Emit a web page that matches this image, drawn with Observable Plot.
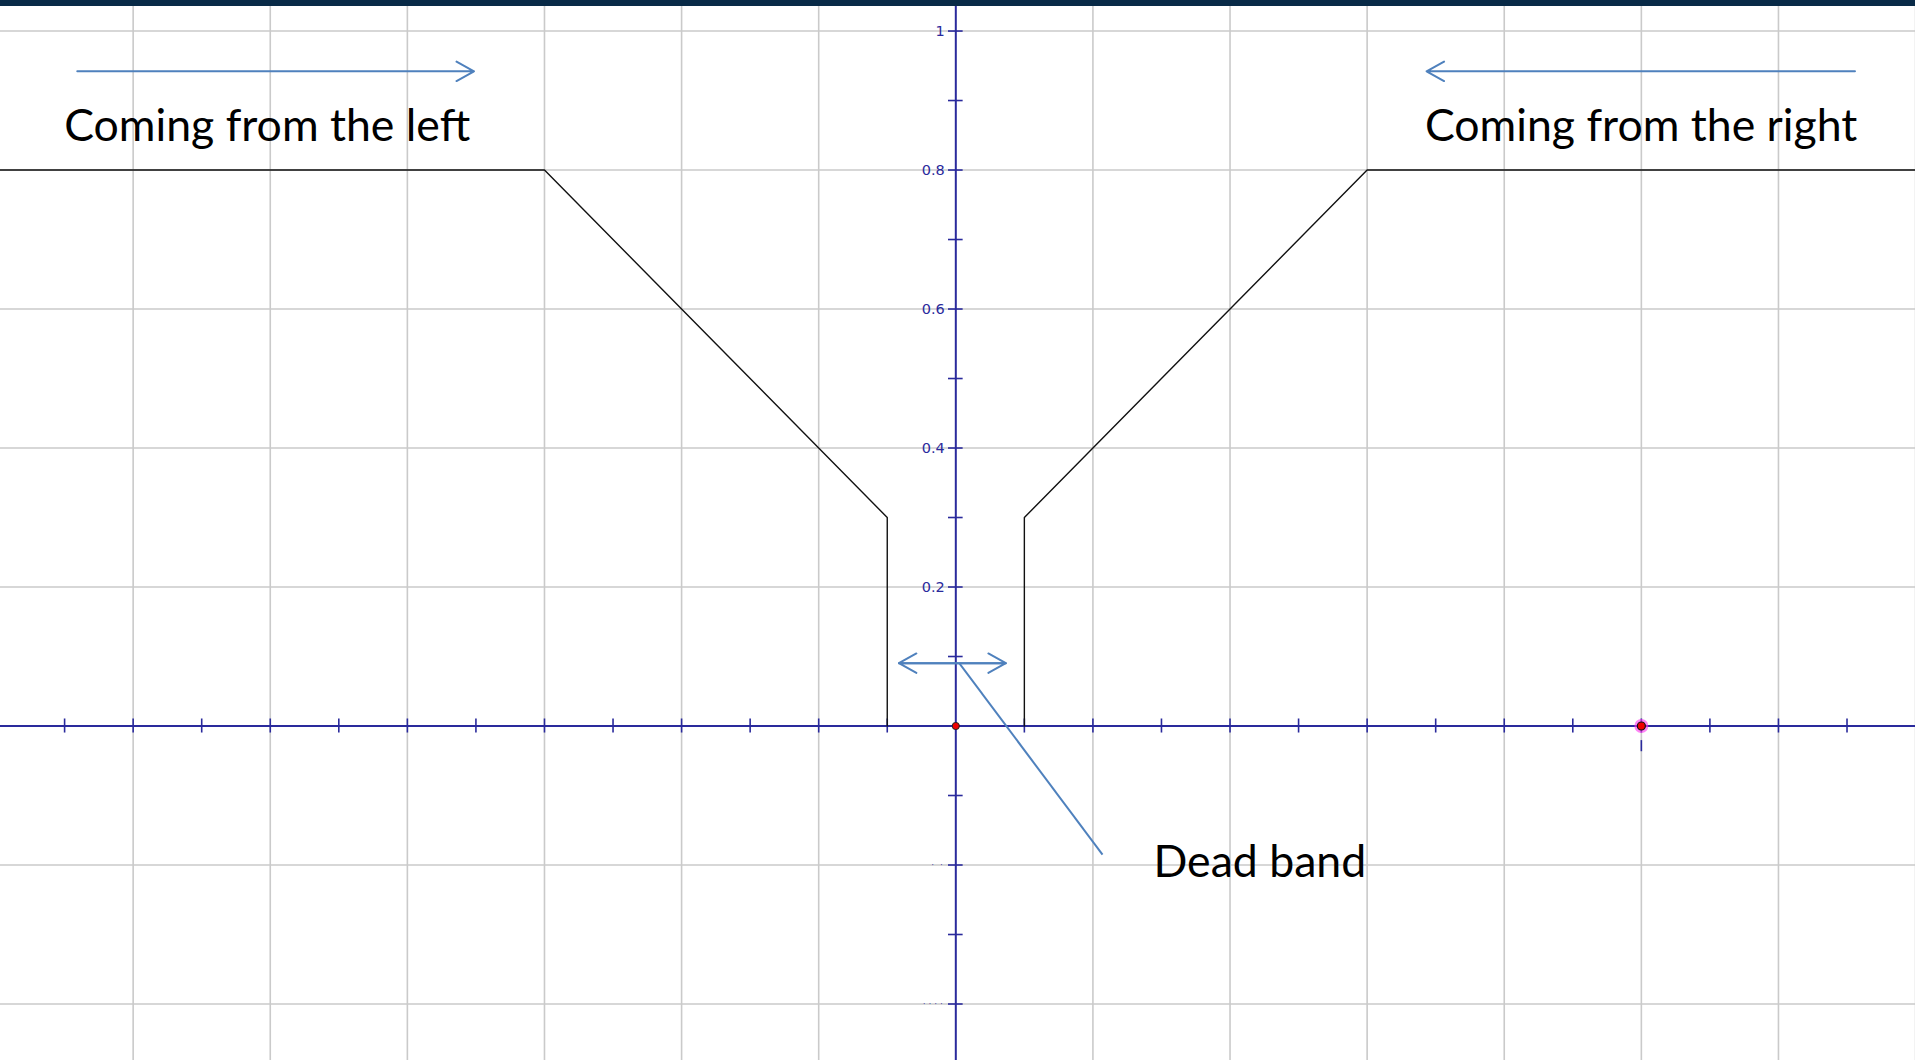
<!DOCTYPE html>
<html>
<head>
<meta charset="utf-8">
<script src="https://cdn.jsdelivr.net/npm/d3@7"></script>
<script src="https://cdn.jsdelivr.net/npm/@observablehq/plot@0.6"></script>
<style>
  html, body { margin: 0; padding: 0; background: #ffffff; overflow: hidden; }
  #bar { height: 6px; background: #082a47; }
  #chart svg { display: block; }
</style>
</head>
<body>
<div id="bar"></div>
<div id="chart"></div>
<script>
// ---- data ----
const xGrid = [-1.2, -1.0, -0.8, -0.6, -0.4, -0.2, 0.2, 0.4, 0.6, 0.8, 1.0, 1.2, 1.4];
const yGrid = [-0.4, -0.2, 0.2, 0.4, 0.6, 0.8, 1.0];
const xTicks = [-1.3, -1.2, -1.1, -1.0, -0.9, -0.8, -0.7, -0.6, -0.5, -0.4, -0.3, -0.2, -0.1,
                0.1, 0.2, 0.3, 0.4, 0.5, 0.6, 0.7, 0.8, 0.9, 1.0, 1.1, 1.2, 1.3];
const yTicks = [-0.4, -0.3, -0.2, -0.1, 0.1, 0.2, 0.3, 0.4, 0.5, 0.6, 0.7, 0.8, 0.9, 1.0];
const yTickLabelValues = [0.2, 0.4, 0.6, 0.8, 1.0];
const yTickLabels = ["0.2", "0.4", "0.6", "0.8", "1"];
const yHiddenLabelValues = [-0.2, -0.4];
const yHiddenLabels = ["·  ·", "· · · ·"];

// curve coming from the left
const leftX = [-1.4, -0.6, -0.35, -0.1, -0.1];
const leftY = [0.8, 0.8, 0.55, 0.3, 0.0];
// curve coming from the right
const rightX = [0.1, 0.1, 0.35, 0.6, 1.4];
const rightY = [0.0, 0.3, 0.55, 0.8, 0.8];

// annotation arrows [x1, y1, x2, y2]
const arrowLeft = [-1.2815, 0.942, -0.7028, 0.942];
const arrowRight = [1.3116, 0.942, 0.6867, 0.942];
const deadBandArrow = [-0.083, 0.0904, 0.073, 0.0904];
const leader = [0.005, 0.0904, 0.214, -0.185];

// annotation texts
const labelTexts = ["Coming from the left", "Coming from the right", "Dead band"];
const labelX = [-1.297, 0.688, 0.292];
const labelY = [0.8415, 0.8415, -0.2176];

// points
const originPoint = [0, 0];
const highlightPoint = [1, 0];

// ---- build ----
const axisColor = "#2a2a9c";
const gridColor = "#cacaca";
const blue = "#4f81bd";
const fs = 44.6;

const curves = [
  ...leftX.map((x, i) => ({x, y: leftY[i], s: "left"})),
  ...rightX.map((x, i) => ({x, y: rightY[i], s: "right"}))
];
const arrows = [
  {x1: arrowLeft[0], y1: arrowLeft[1], x2: arrowLeft[2], y2: arrowLeft[3]},
  {x1: arrowRight[0], y1: arrowRight[1], x2: arrowRight[2], y2: arrowRight[3]},
  {x1: deadBandArrow[0], y1: deadBandArrow[1], x2: deadBandArrow[2], y2: deadBandArrow[3]},
  {x1: deadBandArrow[2], y1: deadBandArrow[3], x2: deadBandArrow[0], y2: deadBandArrow[1]}
];
const labels = labelTexts.map((t, i) => ({t, x: labelX[i], y: labelY[i]}));
const yLab = yTickLabelValues.map((v, i) => ({v, t: yTickLabels[i]}));
const yHid = yHiddenLabelValues.map((v, i) => ({v, t: yHiddenLabels[i]}));

const xTickHalf = 0.0101;
const yTickHalf = 0.0107;

const chart = Plot.plot({
  width: 1915,
  height: 1054,
  margin: 0,
  x: {domain: [-1.3935, 1.3999], axis: null},
  y: {domain: [-0.4813, 1.0353], axis: null},
  style: {background: "#ffffff"},
  marks: [
    Plot.ruleX(xGrid, {stroke: gridColor, strokeWidth: 1.6}),
    Plot.ruleY(yGrid, {stroke: gridColor, strokeWidth: 1.6}),
    Plot.ruleY([0], {stroke: axisColor, strokeWidth: 2}),
    Plot.ruleX([0], {stroke: axisColor, strokeWidth: 2}),
    Plot.ruleX(xTicks, {x: d => d, y1: -xTickHalf, y2: xTickHalf, stroke: axisColor, strokeWidth: 1.6}),
    Plot.ruleY(yTicks, {y: d => d, x1: -yTickHalf, x2: yTickHalf, stroke: axisColor, strokeWidth: 1.6}),
    Plot.text(yLab, {x: 0, y: "v", text: "t", textAnchor: "end", dx: -11, dy: 0.5,
      fill: axisColor, fontSize: 14.5, fontFamily: "DejaVu Sans"}),
    Plot.text(yHid, {x: 0, y: "v", text: "t", textAnchor: "end", dx: -13, dy: 0,
      fill: axisColor, fontSize: 9, fontFamily: "DejaVu Sans", fillOpacity: 0.8}),
    Plot.line(curves, {x: "x", y: "y", z: "s", stroke: "#111111", strokeWidth: 1.4, clip: true}),
    Plot.arrow(arrows, {x1: "x1", y1: "y1", x2: "x2", y2: "y2", stroke: blue,
      strokeWidth: 2, headLength: 15, headAngle: 58}),
    Plot.link([leader], {x1: d => d[0], y1: d => d[1], x2: d => d[2], y2: d => d[3],
      stroke: blue, strokeWidth: 2}),
    Plot.text(labels, {x: "x", y: "y", text: "t", textAnchor: "start", lineAnchor: "middle",
      dx: -2.5, dy: -0.32 * fs, fontSize: fs, fontFamily: "Lato", fill: "#000000"}),
    Plot.dot([highlightPoint], {x: d => d[0], y: d => d[1], r: 7, fill: "#ff33ee", fillOpacity: 0.6, stroke: "none"}),
    Plot.dot([highlightPoint], {x: d => d[0], y: d => d[1], r: 4, fill: "#ee0000", stroke: "#111", strokeWidth: 1.2}),
    Plot.ruleX([highlightPoint], {x: d => d[0], y1: -0.021, y2: -0.037, stroke: axisColor, strokeWidth: 1.6}),
    Plot.dot([originPoint], {x: d => d[0], y: d => d[1], r: 3.6, fill: "#ee0000", stroke: "#222", strokeWidth: 1})
  ]
});
document.getElementById("chart").appendChild(chart);
</script>
</body>
</html>
